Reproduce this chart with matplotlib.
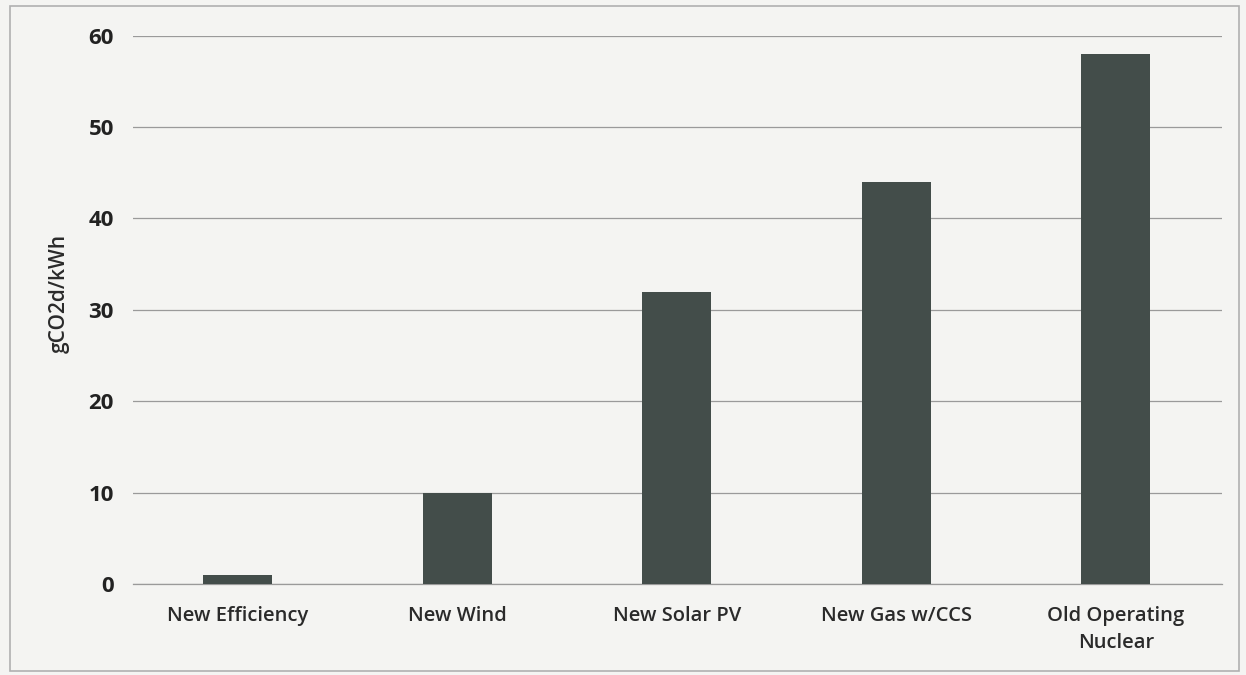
import matplotlib.pyplot as plt
from matplotlib.patches import Rectangle

# Life-cycle emissions by option
categories = ['New Efficiency', 'New Wind', 'New Solar PV', 'New Gas w/CCS', 'Old Operating\nNuclear']
values = [1, 10, 32, 44, 58]
yticks = [0, 10, 20, 30, 40, 50, 60]
ylabel = 'gCO2d/kWh'

plt.rcParams['font.family'] = ['Open Sans', 'DejaVu Sans']

fig = plt.figure(figsize=(12.46, 6.75), dpi=100, facecolor='#f4f4f2')
ax = fig.add_axes([0.107, 0.135, 0.874, 0.812])
ax.set_facecolor('#f4f4f2')

x = range(len(categories))
ax.bar(x, values, width=0.315, color='#434d4a', zorder=3)

ax.set_xlim(-0.476, len(categories) - 0.515)
ax.set_ylim(0, 60)
ax.set_yticks(yticks)
ax.set_xticks(list(x))
ax.set_xticklabels(categories, fontsize=14.5, fontweight='semibold', color='#2a2a2a',
                   linespacing=1.45)
for lbl in ax.get_yticklabels():
    lbl.set_fontsize(16)
    lbl.set_fontweight('bold')
    lbl.set_color('#222222')

ax.grid(axis='y', color='#9a9a9a', linewidth=0.9, zorder=0)
ax.axhline(0, color='#9a9a9a', linewidth=0.9, zorder=2, clip_on=False)
ax.tick_params(axis='both', length=0)
ax.tick_params(axis='y', pad=14)
ax.tick_params(axis='x', pad=16)
for s in ax.spines.values():
    s.set_visible(False)

ax.set_ylabel(ylabel, fontsize=15, fontweight='semibold', color='#2a2a2a')
ax.yaxis.set_label_coords(-0.058, 0.53)

# thin frame round the whole chart
fig.patches.append(Rectangle((0.008, 0.006), 0.986, 0.985, transform=fig.transFigure,
                             fill=False, edgecolor='#b0b0b0', linewidth=1.2))

fig.savefig('out.png', dpi=100, facecolor=fig.get_facecolor())
